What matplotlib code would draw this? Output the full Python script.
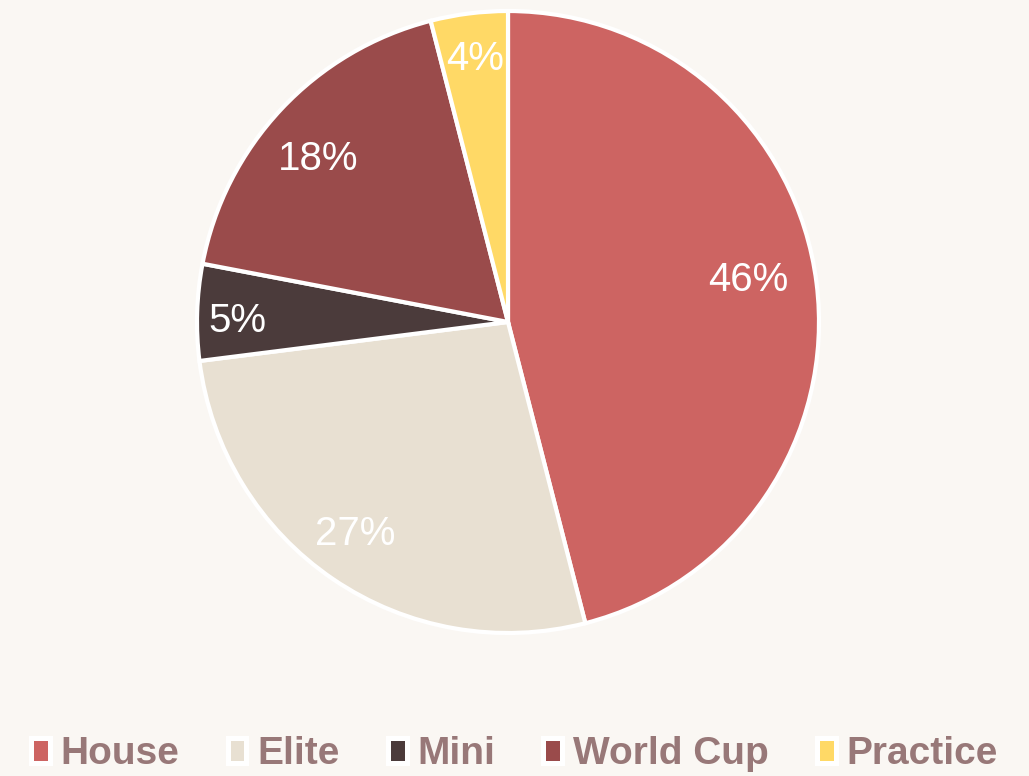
import numpy as np
import matplotlib.pyplot as plt
from matplotlib.patches import Patch

labels = ["House", "Elite", "Mini", "World Cup", "Practice"]
shares = [46, 27, 5, 18, 4]
colors = ["#CD6462", "#E8E0D2", "#4B3B3B", "#9A4B4B", "#FFD966"]
bg = "#FAF7F3"
legend_text = "#987878"
# percent label placement: fraction of radius and angle nudge (deg)
label_dist = [0.785, 0.83, 0.87, 0.813, 0.865]
label_nudge = [3.6, -2.2, 0.8, 1.9, -0.2]

plt.rcParams['font.family'] = ['Liberation Sans', 'DejaVu Sans']

fig = plt.figure(figsize=(10.29, 7.76), dpi=100, facecolor=bg)
ax = fig.add_axes([197/1029, 143/776, 622/1029, 622/776])
ax.set_facecolor(bg)

wedges, texts, autotexts = ax.pie(
    shares, colors=colors, startangle=90, counterclock=False,
    autopct='%1.0f%%', pctdistance=0.83, radius=1,
    wedgeprops=dict(edgecolor='white', linewidth=3),
    textprops=dict(color='white', fontsize=29))
ax.set_xlim(-1, 1)
ax.set_ylim(-1, 1)
ax.set_aspect('equal')
for w, t, d, n in zip(wedges, autotexts, label_dist, label_nudge):
    w.set_clip_on(False)
    mid = np.deg2rad((w.theta1 + w.theta2) / 2 + n)
    t.set_position((d * np.cos(mid), d * np.sin(mid)))
    t.set_va('center_baseline')

handles = [Patch(facecolor=c, edgecolor='white', linewidth=3.6) for c in colors]
leg = fig.legend(handles, labels, loc='center', bbox_to_anchor=(0.5, 22/776),
                 ncol=5, frameon=False, handlelength=0.48, handleheight=0.6,
                 handletextpad=0.28, columnspacing=1.24,
                 prop=dict(size=28, weight='bold'))
for t in leg.get_texts():
    t.set_color(legend_text)

fig.savefig("out.png", dpi=100, facecolor=bg)
